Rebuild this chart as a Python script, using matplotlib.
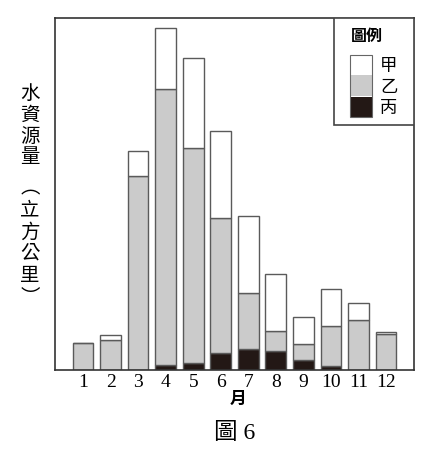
import numpy as np
import matplotlib
matplotlib.use('Agg')
import matplotlib.pyplot as plt
from matplotlib.patches import Rectangle

plt.rcParams['font.family'] = ['Noto Sans CJK TC', 'DejaVu Sans']

# 各月水資源量（相對高度，讀自圖）
months = ['1', '2', '3', '4', '5', '6', '7', '8', '9', '10', '11', '12']
bing = [0, 0, 0, 5.3, 7.3, 17, 20.7, 18.7, 9.7, 3.7, 0, 0]          # 丙
yi = [26.7, 30.3, 193.7, 275.7, 214.4, 135, 56, 20, 16.6, 40.3, 50.3, 35.7]  # 乙
jia = [0, 4.4, 25, 61, 90, 86.7, 77, 57, 26.4, 37.3, 16.7, 2.6]     # 甲

W, H = 433, 464
fig = plt.figure(figsize=(W / 100, H / 100), dpi=100)
ax = fig.add_axes([55 / W, (H - 371) / H, 359 / W, 352 / H])

x = np.arange(1, 13)
edge = '#5a5a5a'
bing = np.array(bing)
yi = np.array(yi)
jia = np.array(jia)
ax.bar(x, bing, width=0.75, color='#231815', edgecolor=edge, linewidth=1)
ax.bar(x, yi, width=0.75, bottom=bing, color='#cbcbcb', edgecolor=edge, linewidth=1)
ax.bar(x, jia, width=0.75, bottom=bing + yi, color='white', edgecolor=edge, linewidth=1)

ax.set_xlim(-0.02, 13.02)
ax.set_ylim(0, 352)
ax.set_yticks([])
ax.set_xticks(x)
ax.set_xticklabels(months, family='Liberation Serif', fontsize=14)
ax.tick_params(axis='x', length=0, pad=2)
for s in ax.spines.values():
    s.set_color('#333333')
    s.set_linewidth(1.2)

# 圖例（手畫框）
ax.add_patch(Rectangle((0.778, 0.696), 0.222, 0.304, transform=ax.transAxes,
                       facecolor='white', edgecolor='#444444', linewidth=1.2, zorder=5))
ax.text(0.868, 0.952, '圖例', transform=ax.transAxes, ha='center', va='center',
        fontsize=11.5, fontweight='bold', zorder=6)
legend_items = [('甲', 'white', 0.838), ('乙', '#cbcbcb', 0.779), ('丙', '#231815', 0.718)]
for lab, col, y0 in legend_items:
    ax.add_patch(Rectangle((0.822, y0), 0.06, 0.058, transform=ax.transAxes,
                           facecolor=col, edgecolor='none', zorder=6))
    ax.text(0.93, y0 + 0.029, lab, transform=ax.transAxes, ha='center', va='center',
            fontsize=12.5, zorder=6)
ax.add_patch(Rectangle((0.822, 0.718), 0.06, 0.178, transform=ax.transAxes,
                       facecolor='none', edgecolor='#666666', linewidth=0.8, zorder=7))

# 直式 y 軸標題
ylab = ['水', '資', '源', '量', '︵', '立', '方', '公', '里', '︶']
ypos = [93, 115, 136, 157, 188, 210, 232, 253, 276, 297]
for ch, yp in zip(ylab, ypos):
    fig.text(30 / W, 1 - yp / H, ch, ha='center', va='center', fontsize=14)

fig.text(238 / W, 1 - 399 / H, '月', ha='center', va='center', fontsize=12, fontweight='bold')
fig.text(235 / W, 1 - 434 / H, '圖 6', ha='center', va='center', fontsize=17,
         family=['Liberation Serif', 'Noto Sans CJK TC'])

fig.savefig('out.png', dpi=100)
